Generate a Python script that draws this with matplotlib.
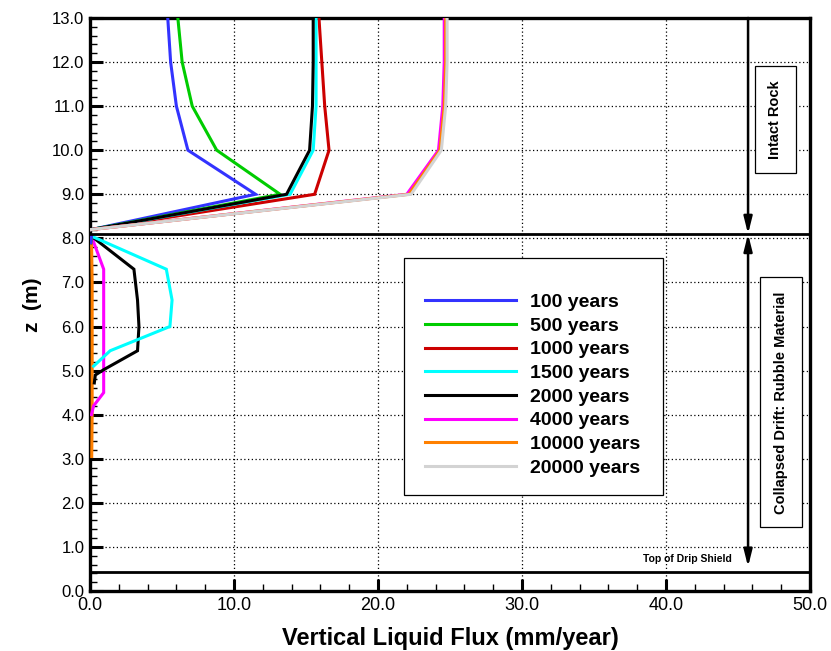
import numpy as np
import matplotlib.pyplot as plt
from matplotlib import font_manager
from matplotlib.patches import Rectangle

# font: narrow Arial-like if available
names = {f.name for f in font_manager.fontManager.ttflist}
narrow = "Liberation Sans Narrow" if "Liberation Sans Narrow" in names else "Liberation Sans"
plt.rcParams["font.family"] = ["Liberation Sans", "DejaVu Sans"]

labels = ["100 years", "500 years", "1000 years", "1500 years",
          "2000 years", "4000 years", "10000 years", "20000 years"]
colors = ["#3333ff", "#00cc00", "#cc0000", "#00ffff",
          "#000000", "#ff00ff", "#ff8000", "#d3d3d3"]

# upper zone (intact rock): elevations and fluxes
z_top = [13.0, 12.0, 11.0, 10.0, 9.0, 8.2]
flux_top = {
    "100 years":   [5.4, 5.6, 6.0, 6.8, 11.5, 0.1],
    "500 years":   [6.1, 6.4, 7.1, 8.8, 13.2, 0.1],
    "1000 years":  [15.9, 16.1, 16.3, 16.6, 15.6, 0.1],
    "1500 years":  [15.7, 15.7, 15.7, 15.5, 13.9, 0.1],
    "2000 years":  [15.5, 15.5, 15.45, 15.25, 13.65, 0.1],
    "4000 years":  [24.6, 24.6, 24.5, 24.2, 22.0, 0.1],
    "10000 years": [24.7, 24.7, 24.6, 24.3, 22.15, 0.1],
    "20000 years": [24.8, 24.8, 24.7, 24.4, 22.3, 0.1],
}

# lower zone (collapsed drift rubble)
z_bot = {
    "100 years":   [8.05, 7.9],
    "500 years":   [8.05, 7.9],
    "1000 years":  [8.05, 7.9],
    "1500 years":  [8.05, 7.3, 6.6, 6.0, 5.45, 5.1],
    "2000 years":  [8.05, 7.3, 6.6, 6.0, 5.45, 5.02, 4.9, 4.72],
    "4000 years":  [8.05, 7.3, 6.0, 5.0, 4.5, 4.2, 4.0],
    "10000 years": [8.05, 7.0, 6.0, 5.0, 4.0, 3.05],
    "20000 years": [8.05, 7.9],
}
flux_bot = {
    "100 years":   [0.1, 0.05],
    "500 years":   [0.1, 0.05],
    "1000 years":  [0.1, 0.05],
    "1500 years":  [0.1, 5.3, 5.7, 5.55, 1.4, 0.25],
    "2000 years":  [0.1, 3.05, 3.3, 3.4, 3.3, 0.95, 0.37, 0.3],
    "4000 years":  [0.1, 0.95, 0.95, 0.95, 0.95, 0.25, 0.1],
    "10000 years": [0.1, 0.15, 0.15, 0.15, 0.15, 0.12],
    "20000 years": [0.05, 0.05],
}

fig = plt.figure(figsize=(8.31, 6.51), dpi=100)
ax = fig.add_axes([0.1083, 0.0922, 0.8664, 0.8802])

for lab, c in zip(labels, colors):
    ax.plot(flux_top[lab], z_top, color=c, lw=2.2, solid_joinstyle="miter", label=lab, zorder=3)
for lab, c in zip(labels[::-1], colors[::-1]):
    ax.plot(flux_bot[lab], z_bot[lab], color=c, lw=2.2, solid_joinstyle="miter", zorder=3)

ax.set_xlim(0, 50)
ax.set_ylim(0, 13)
ax.set_xticks(np.arange(0, 51, 10))
ax.set_yticks(np.arange(0, 14, 1))
ax.set_xticks(np.arange(0, 50.1, 2), minor=True)
ax.set_yticks(np.arange(0, 13.01, 0.2), minor=True)
ax.set_xticklabels([f"{v:.1f}" for v in np.arange(0, 51, 10)], family=narrow, fontsize=13)
ax.set_yticklabels([f"{v:.1f}" for v in np.arange(0, 14, 1)], family=narrow, fontsize=12)
ax.tick_params(which="major", direction="in", length=9, width=2.2, pad=4)
ax.tick_params(which="minor", direction="in", length=5, width=1.0)
ax.grid(True, which="major", color="black", linestyle=(0, (1, 2)), linewidth=0.9)
for s in ax.spines.values():
    s.set_linewidth(2.4)

ax.set_xlabel("Vertical Liquid Flux (mm/year)", family=narrow, fontsize=17, fontweight="bold", labelpad=10)
ax.set_ylabel("z  (m)", fontsize=15, fontweight="bold", labelpad=7)

# zone boundaries
ax.axhline(8.1, color="black", lw=2.0, zorder=4)
ax.axhline(0.44, color="black", lw=2.0, zorder=4)

arr = dict(color="black", lw=1.8, shrinkA=0, shrinkB=0)
ax.annotate("", xy=(45.7, 8.1), xytext=(45.7, 13.0),
            arrowprops=dict(arrowstyle="-|>,head_length=1.0,head_width=0.25", **arr))
ax.annotate("", xy=(45.7, 0.55), xytext=(45.7, 8.1),
            arrowprops=dict(arrowstyle="<|-|>,head_length=1.0,head_width=0.25", **arr))

box = dict(boxstyle="square,pad=0.95", fc="white", ec="black", lw=0.9)
ax.text(47.6, 10.7, "Intact Rock", rotation=90, ha="center", va="center",
        fontsize=10.5, fontweight="bold", bbox=box, zorder=5)
ax.text(48.0, 4.28, "Collapsed Drift: Rubble Material", rotation=90, ha="center", va="center",
        fontsize=10.5, fontweight="bold", bbox=box, zorder=5)
ax.text(44.6, 0.72, "Top of Drip Shield", ha="right", va="center",
        fontsize=7.5, fontweight="bold", zorder=5)

# legend with its own frame
ax.add_patch(Rectangle((0.436, 0.168), 0.36, 0.413, transform=ax.transAxes,
                       fc="white", ec="black", lw=0.9, zorder=5))
leg = ax.legend(loc="upper left", bbox_to_anchor=(0.465, 0.519), frameon=False,
                borderpad=0, borderaxespad=0, handlelength=4.7, handletextpad=0.72,
                labelspacing=0.31, prop=dict(size=14, weight="bold"))
leg.set_zorder(6)

fig.savefig("out.png", dpi=100)
